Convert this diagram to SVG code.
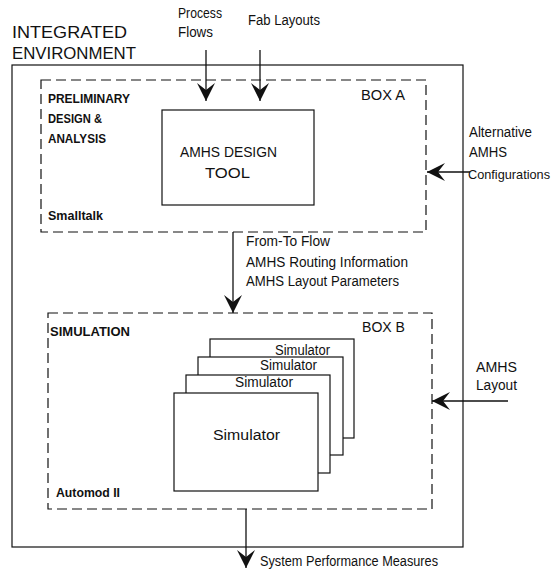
<svg xmlns="http://www.w3.org/2000/svg" width="557" height="573" viewBox="0 0 557 573">
<style>
text { font-family: "Liberation Sans", Arial, sans-serif; fill: #111; }
.t { font-size: 14px; }
.b { font-size: 13px; font-weight: bold; }
.big { font-size: 17px; }
.box { fill: #fff; stroke: #111; stroke-width: 1.2; }
.dash { fill: none; stroke: #111; stroke-width: 1.2; stroke-dasharray: 10 5; }
.ln { fill: none; stroke: #111; stroke-width: 1.3; }
</style>
<defs>
<marker id="ah" markerUnits="userSpaceOnUse" markerWidth="20" markerHeight="20" viewBox="0 0 20 20" refX="19" refY="10" orient="auto">
<path d="M19,10 L1,1 L8,10 L1,19 Z" fill="#111"/>
</marker>
</defs>
<rect width="557" height="573" fill="#fff"/>

<g id="title">
<text class="big" x="12" y="38" textLength="115" lengthAdjust="spacingAndGlyphs">INTEGRATED</text>
<text class="big" x="12" y="59" textLength="124" lengthAdjust="spacingAndGlyphs">ENVIRONMENT</text>
</g>

<g id="integrated-environment">
<rect class="box" x="12" y="65" width="451" height="482"/>
</g>

<g id="box-a">
<rect class="dash" x="41" y="80" width="385" height="152"/>
<text class="b" x="48" y="103" textLength="82" lengthAdjust="spacingAndGlyphs">PRELIMINARY</text>
<text class="b" x="48" y="123" textLength="54" lengthAdjust="spacingAndGlyphs">DESIGN &amp;</text>
<text class="b" x="48" y="143" textLength="58" lengthAdjust="spacingAndGlyphs">ANALYSIS</text>
<text class="b" x="48" y="220" textLength="55" lengthAdjust="spacingAndGlyphs">Smalltalk</text>
<text style="font-size:15px" x="361" y="100" textLength="44" lengthAdjust="spacingAndGlyphs">BOX A</text>
</g>

<g id="amhs-design-tool">
<rect class="box" x="162" y="110" width="152" height="95"/>
<text style="font-size:14.5px" x="180" y="157" textLength="97" lengthAdjust="spacingAndGlyphs">AMHS DESIGN</text>
<text style="font-size:14.5px" x="205" y="178" textLength="45" lengthAdjust="spacingAndGlyphs">TOOL</text>
</g>

<g id="box-b">
<rect class="dash" x="48" y="313" width="384" height="196"/>
<text class="b" x="50" y="336" textLength="80" lengthAdjust="spacingAndGlyphs">SIMULATION</text>
<text class="b" x="56" y="497" textLength="64" lengthAdjust="spacingAndGlyphs">Automod II</text>
<text style="font-size:15px" x="362" y="332" textLength="43" lengthAdjust="spacingAndGlyphs">BOX B</text>
</g>

<g id="simulator-4">
<rect class="box" x="210" y="339" width="144" height="99"/>
<text class="t" x="275" y="355" textLength="55" lengthAdjust="spacingAndGlyphs">Simulator</text>
</g>
<g id="simulator-3">
<rect class="box" x="198" y="357" width="145" height="98"/>
<text class="t" x="260" y="370" textLength="57" lengthAdjust="spacingAndGlyphs">Simulator</text>
</g>
<g id="simulator-2">
<rect class="box" x="186" y="375" width="144" height="98"/>
<text class="t" x="235" y="387" textLength="58" lengthAdjust="spacingAndGlyphs">Simulator</text>
</g>
<g id="simulator-1">
<rect class="box" x="174" y="393" width="144" height="98"/>
<text class="t" x="213" y="440" textLength="67" lengthAdjust="spacingAndGlyphs">Simulator</text>
</g>

<g id="labels">
<text class="t" x="178" y="18" textLength="44" lengthAdjust="spacingAndGlyphs">Process</text>
<text class="t" x="178" y="37" textLength="35" lengthAdjust="spacingAndGlyphs">Flows</text>
<text class="t" x="248" y="25" textLength="72" lengthAdjust="spacingAndGlyphs">Fab Layouts</text>
<text class="t" x="469" y="137" textLength="63" lengthAdjust="spacingAndGlyphs">Alternative</text>
<text class="t" x="469" y="157" textLength="38" lengthAdjust="spacingAndGlyphs">AMHS</text>
<text style="font-size:13px" x="468" y="179" textLength="82" lengthAdjust="spacingAndGlyphs">Configurations</text>
<text class="t" x="246" y="246" textLength="84" lengthAdjust="spacingAndGlyphs">From-To Flow</text>
<text class="t" x="246" y="267" textLength="162" lengthAdjust="spacingAndGlyphs">AMHS Routing Information</text>
<text class="t" x="246" y="286" textLength="153" lengthAdjust="spacingAndGlyphs">AMHS Layout Parameters</text>
<text class="t" x="476" y="372" textLength="41" lengthAdjust="spacingAndGlyphs">AMHS</text>
<text class="t" x="476" y="390" textLength="41" lengthAdjust="spacingAndGlyphs">Layout</text>
<text class="t" x="260" y="566" textLength="178" lengthAdjust="spacingAndGlyphs">System Performance Measures</text>
</g>

<g id="connectors">
<line class="ln" x1="206" y1="50" x2="206" y2="101" marker-end="url(#ah)"/>
<line class="ln" x1="260" y1="50" x2="260" y2="101" marker-end="url(#ah)"/>
<line class="ln" x1="233" y1="232" x2="233" y2="313" marker-end="url(#ah)"/>
<line class="ln" x1="470" y1="172" x2="427" y2="172" marker-end="url(#ah)"/>
<line class="ln" x1="508" y1="401" x2="432" y2="401" marker-end="url(#ah)"/>
<line class="ln" x1="246" y1="509" x2="246" y2="568" marker-end="url(#ah)"/>
</g>
</svg>
